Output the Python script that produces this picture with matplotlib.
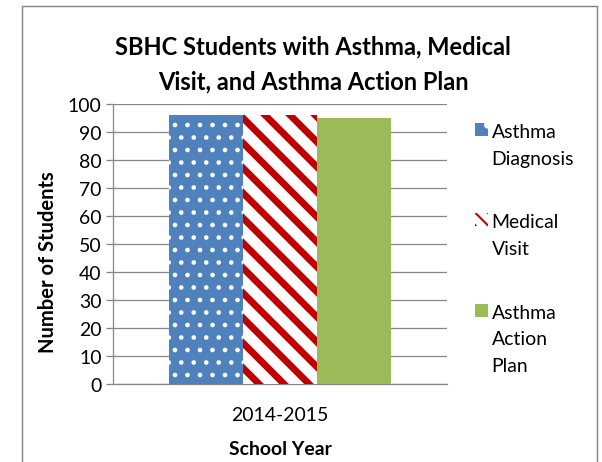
import numpy as np
import matplotlib
matplotlib.use("Agg")
import matplotlib.pyplot as plt
from matplotlib.patches import Rectangle, Patch

# data
years = ["2014-2015"]
series = ["Asthma\nDiagnosis", "Medical\nVisit", "Asthma\nAction\nPlan"]
values = [96, 96, 95]

colors = ["#4F81BD", "white", "#9BBB59"]
hatchcol = ["white", "#C00000", "#9BBB59"]
hatches = ["..", "\\\\", None]

plt.rcParams['font.family'] = ['Lato', 'DejaVu Sans']
grey = "#868686"
fs = 9.3

fig = plt.figure(figsize=(603/150, 463/150), dpi=150)
ax = fig.add_axes([113/603, 78/463, 334/603, 280/463])

w = 0.2216
x = np.arange(len(years))
for i, (lab, v) in enumerate(zip(series, values)):
    b = ax.bar(x + (i - 1) * w, [v], w, color=colors[i], edgecolor=hatchcol[i],
               hatch=hatches[i], linewidth=0, label=lab, zorder=3)
    for p in b:
        if hasattr(p, "set_hatch_linewidth"):
            p.set_hatch_linewidth(1.0 if i == 0 else 3.3)

ax.set_xlim(-0.5, 0.5)
ax.set_ylim(0, 100)
ax.set_yticks(np.arange(0, 101, 10))
ax.set_xticks(x)
ax.set_xticklabels(years, fontsize=fs)
ax.tick_params(axis='y', labelsize=fs, length=3.5, width=0.6, color=grey, pad=2)
ax.tick_params(axis='x', length=0, pad=10.5)
ax.yaxis.grid(True, color=grey, linewidth=0.6, zorder=0)
for s in ["top", "right"]:
    ax.spines[s].set_visible(False)
for s in ["left", "bottom"]:
    ax.spines[s].set_color(grey)
    ax.spines[s].set_linewidth(0.6)

ax.set_xlabel("School Year", fontsize=fs, fontweight='bold', labelpad=8)
fig.text(48/603, 1 - 262/463, "Number of Students", rotation=90, fontsize=9.7,
         fontweight='bold', ha='center', va='center')

fig.text(313/603, 1 - 64.5/463, "SBHC Students with Asthma, Medical\nVisit, and Asthma Action Plan",
         fontsize=11.35, fontweight='bold', ha='center', va='center', linespacing=1.6)

# legend squares (denser hatch so the small keys show the pattern)
leg_hatch = [".", "\\\\\\\\", None]
handles = []
for i, lab in enumerate(series):
    h = Patch(facecolor=colors[i], edgecolor=hatchcol[i], hatch=leg_hatch[i], linewidth=0, label=lab)
    if hasattr(h, "set_hatch_linewidth"):
        h.set_hatch_linewidth(1.5 if i == 0 else 2.2)
    handles.append(h)

leg = fig.legend(handles=handles, loc='upper left', bbox_to_anchor=(475/603, 1 - 124/463), frameon=False,
                 fontsize=fs, handlelength=0.66, handleheight=0.66, handletextpad=0.2,
                 labelspacing=2.4, borderpad=0, borderaxespad=0)
for t in leg.get_texts():
    t.set_linespacing(1.7)
# put each legend square next to the first line of its label
for col in leg._legend_handle_box.get_children():
    for item in col.get_children():
        item.align = "top"

# outer chart border
fig.patches.append(Rectangle((22.5/603, -0.1), 575/603, 0.1 + 456.5/463, transform=fig.transFigure,
                             fill=False, edgecolor=grey, linewidth=0.7))

fig.savefig("out.png", dpi=150)
